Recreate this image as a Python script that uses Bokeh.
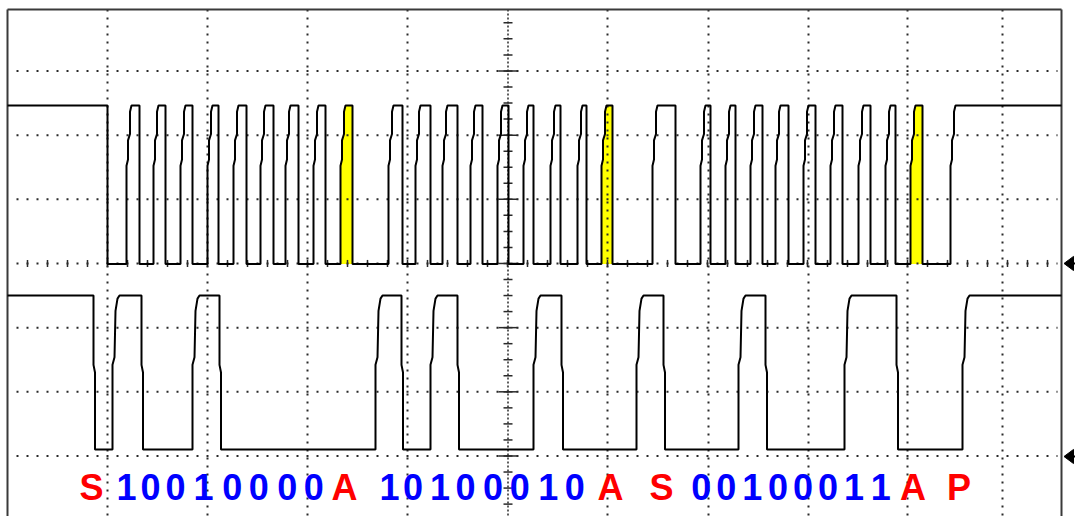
import numpy as np
from bokeh.plotting import figure
from bokeh.models import Range1d
from bokeh.core.properties import value
from bokeh.embed import file_html
from bokeh.resources import INLINE

# ---------------- data (time in divisions, levels in divisions) ----------------
# SCL (channel 1) edges
scl_falls = [1.00, 1.32, 1.58, 1.85, 2.11, 2.39, 2.66, 2.91, 3.18, 3.45,
             3.95, 4.23, 4.50, 4.75, 5.01, 5.26, 5.53, 5.79, 6.05,
             6.68, 7.03, 7.28, 7.55, 7.81, 8.08, 8.35, 8.63, 8.88, 9.15]
scl_rises = [1.19, 1.46, 1.73, 2.00, 2.26, 2.53, 2.78, 3.06, 3.33,
             3.81, 4.08, 4.35, 4.63, 4.90, 5.16, 5.43, 5.70, 5.94,
             6.45, 6.93, 7.18, 7.43, 7.68, 7.96, 8.23, 8.51, 8.78, 9.03, 9.43]
ack_rises = [3.33, 5.94, 9.03]
ack_falls = [3.45, 6.05, 9.15]

# SDA (channel 2) edges
sda_falls = [0.86, 1.34, 2.12, 3.94, 4.50, 5.54, 6.56, 7.58, 8.89]
sda_rises = [1.05, 1.85, 3.68, 4.23, 5.26, 6.29, 7.31, 8.37, 9.55]

scl_levels = [-0.01, 2.462]
sda_levels = [-2.90, -0.50]

# decoded bits
labels = ["S", "1", "0", "0", "1", "0", "0", "0", "0", "A",
          "1", "0", "1", "0", "0", "0", "1", "0", "A",
          "S", "0", "0", "1", "0", "0", "0", "1", "1", "A", "P"]
label_x = [0.84, 1.19, 1.43, 1.68, 1.96, 2.247, 2.513, 2.797, 3.063, 3.37,
           3.82, 4.055, 4.326, 4.58, 4.855, 5.122, 5.407, 5.672, 6.03,
           6.54, 6.938, 7.188, 7.448, 7.705, 7.955, 8.205, 8.466, 8.733, 9.055, 9.516]
label_kind = ["ctl", "bit", "bit", "bit", "bit", "bit", "bit", "bit", "bit", "ctl",
              "bit", "bit", "bit", "bit", "bit", "bit", "bit", "bit", "ctl",
              "ctl", "bit", "bit", "bit", "bit", "bit", "bit", "bit", "bit", "ctl", "ctl"]
label_y = -3.491   # vertical centre of the decoded text row

# screen grid (divisions)
vgrid_x = [1.0, 2.0, 3.0, 4.0, 6.0, 7.01, 8.01, 9.0, 9.95]
center_x = 5.005
hgrid_y = [3.0, 2.0, 1.0, -1.0, -2.0, -3.0]
center_y = 0.0
marker_y = [0.0, -3.008]   # channel ground markers

# ---------------- styling helpers ----------------
PX = 100.0  # pixels per horizontal division
RISE_SCL = [(0, 0), (0, 0.62), (1.5, 0.66), (1.5, 0.78), (3.5, 0.82), (3.5, 0.96), (5, 1.0)]
FALL_SCL = [(0, 1), (0, 0)]
RISE_SDA = [(0, 0), (0, 0.55), (2, 0.6), (3, 0.9), (5, 0.98), (7, 1.0)]
FALL_SDA = [(0, 1), (0, 0.55), (1.5, 0.5), (1.5, 0)]

X0, X1 = -0.07, 10.68
Y0, Y1 = -3.943, 4.098
XL, XR, YT = 0.0, 10.54, 3.958   # frame border


def trace(rises, falls, lo, hi, rprof, fprof, t0=XL, t1=XR):
    edges = sorted([(t, 1) for t in rises] + [(t, 0) for t in falls])
    xs, ys = [t0], [hi]
    for t, k in edges:
        for dx, fr in (rprof if k else fprof):
            xs.append(t + dx / PX)
            ys.append(lo + fr * (hi - lo))
    xs.append(t1)
    ys.append(ys[-1])
    return xs, ys


p = figure(width=1075, height=516, x_range=Range1d(X0, X1), y_range=Range1d(Y0, Y1),
           output_backend="svg", toolbar_location=None, min_border=0,
           x_axis_type=None, y_axis_type=None, outline_line_color=None,
           background_fill_color="white", border_fill_color="white")
p.grid.visible = False

# yellow ACK fills
lo, hi = scl_levels
for r, f in zip(ack_rises, ack_falls):
    xs = [r + dx / PX for dx, fr in RISE_SCL] + [f, f]
    ys = [lo + fr * (hi - lo) for dx, fr in RISE_SCL] + [hi, lo]
    p.patch(xs, ys, fill_color="#ffff00", line_color=None)

# grid
GC = "#2a2a2a"
p.segment(x0=vgrid_x, y0=[YT] * len(vgrid_x), x1=vgrid_x, y1=[Y0] * len(vgrid_x),
          line_color=GC, line_width=2, line_dash="2 6")
p.segment(x0=[0.09] * len(hgrid_y), y0=hgrid_y, x1=[10.5] * len(hgrid_y), y1=hgrid_y,
          line_color=GC, line_width=2, line_dash="2 8")
# centre axes
p.segment(x0=[center_x], y0=[YT], x1=[center_x], y1=[Y0],
          line_color=GC, line_width=1.5, line_dash="2 2")
p.segment(x0=[0.09], y0=[center_y], x1=[10.5], y1=[center_y],
          line_color=GC, line_width=2, line_dash="2 8")
tx = np.arange(0.2, 10.45, 0.2)
p.segment(x0=tx, y0=center_y - 0.055, x1=tx, y1=center_y + 0.055, line_color=GC, line_width=1.5)
ty_minor = np.arange(-3.75, 3.9, 0.25)
p.segment(x0=center_x - 0.045, y0=ty_minor, x1=center_x + 0.045, y1=ty_minor,
          line_color=GC, line_width=1.5)
ty_major = np.array(hgrid_y + [center_y])
p.segment(x0=center_x - 0.095, y0=ty_major, x1=center_x + 0.095, y1=ty_major,
          line_color=GC, line_width=1.5)

# frame borders (top, left, right)
BC = "#3a3a3a"
p.segment(x0=[XL, XL, XR], y0=[YT, YT, YT], x1=[XR, XL, XR], y1=[YT, Y0, Y0],
          line_color=BC, line_width=2)

# traces
xs, ys = trace(scl_rises, scl_falls, scl_levels[0], scl_levels[1], RISE_SCL, FALL_SCL)
p.line(xs, ys, line_color="black", line_width=2)
xs, ys = trace(sda_rises, sda_falls, sda_levels[0], sda_levels[1], RISE_SDA, FALL_SDA)
p.line(xs, ys, line_color="black", line_width=2)

# ground markers (arrows at the right edge)
for yv in marker_y:
    p.patch([10.565, 10.66, 10.66], [yv, yv + 0.11, yv - 0.11],
            fill_color="black", line_color="black")
    p.segment(x0=[10.62], y0=[yv], x1=[10.68], y1=[yv], line_color="black", line_width=2)

# decoded text
colors = ["#ff0000" if k == "ctl" else "#0000ff" for k in label_kind]
p.text(x=label_x, y=[label_y] * len(labels), text=labels, text_color=colors,
       text_font=value("Liberation Sans"), text_font_style="bold",
       text_font_size="36px", text_align="center", text_baseline="middle")

open("out.html", "w").write(file_html(p, INLINE))
